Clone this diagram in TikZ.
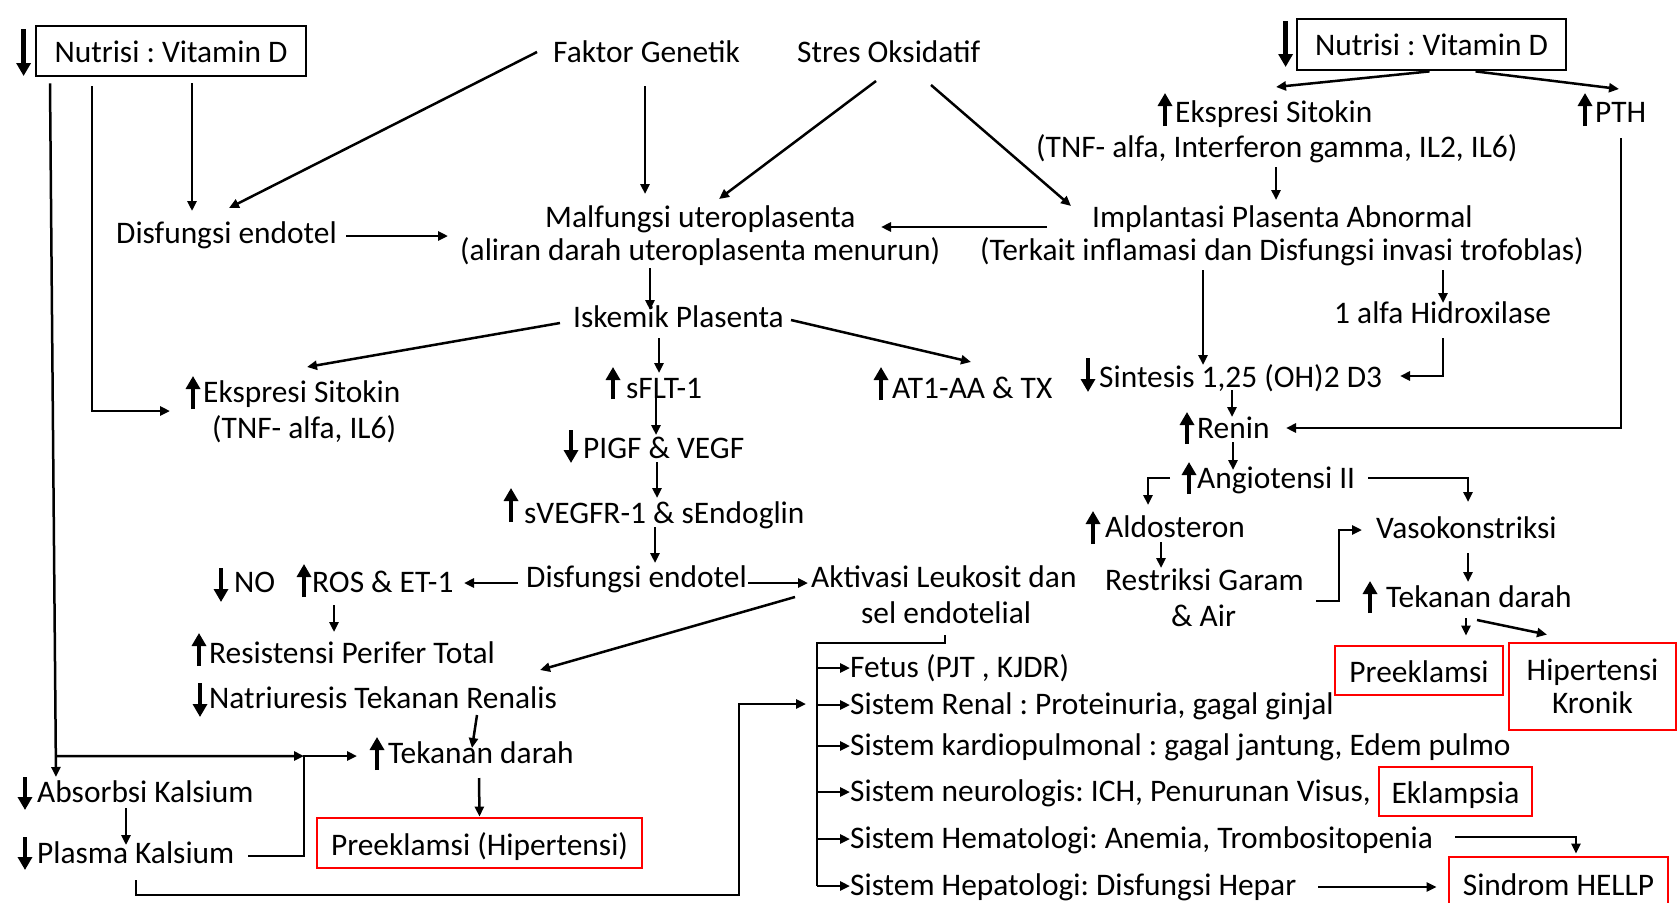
\documentclass[tikz,border=0pt]{standalone}
\usepackage{fontspec}
\setmainfont{Carlito}
\usetikzlibrary{arrows.meta,calc}
% thick up/down arrow glyphs placed next to a label: node anchor, x offset, top, bottom
\newcommand\gup[4]{\draw[gly] ($(#1)+(#2,#4)$) -- ($(#1)+(#2,#3)$);}
\newcommand\gdn[4]{\draw[gly] ($(#1)+(#2,#3)$) -- ($(#1)+(#2,#4)$);}
\frenchspacing
\begin{document}
\begin{tikzpicture}[x=1pt,y=-1pt,
  txt/.style={anchor=base west,inner sep=0pt,font=\fontsize{31.4}{36}\selectfont},
  boxbase/.style={line width=2.8pt,inner sep=0pt,font=\fontsize{31.4}{33}\selectfont},
  bbox/.style={boxbase,draw=black,text height=22pt,text depth=0pt},
  rbox/.style={boxbase,draw=red,text height=24pt,text depth=0pt},
  arr/.style={line width=2.5pt,-{Triangle[length=10pt,width=9pt]}},
  ln/.style={line width=2.5pt},
  gly/.style={line width=4.5pt,-{Triangle[length=13pt,width=14pt]}},
]
\fill[white] (0,0) rectangle (1678,902);
\useasboundingbox (0,0) rectangle (1678,902);

% ---- labels ----
\node[bbox,minimum width=270pt,minimum height=50pt] (nutL) at (171,51) {Nutrisi : Vitamin D};
\node[bbox,minimum width=269pt,minimum height=51pt] (nutR) at (1431.5,44.5) {Nutrisi : Vitamin D};
\node[txt] (fg) at (553,62) {Faktor Genetik};
\node[txt] (so) at (797,62) {Stres Oksidatif};
\node[txt] (ekR) at (1175,122) {Ekspresi Sitokin};
\node[txt] (pth) at (1595,122) {PTH};
\node[txt] (ekR2) at (1036,157) {(TNF- alfa, Interferon gamma, IL2, IL6)};
\node[txt] (mal) at (545,227) {Malfungsi uteroplasenta};
\node[txt] (mal2) at (460,260) {(aliran darah uteroplasenta menurun)};
\node[txt] (deL) at (116,243) {Disfungsi endotel};
\node[txt] (imp) at (1092,227) {Implantasi Plasenta Abnormal};
\node[txt] (imp2) at (980,260) {(Terkait inflamasi dan Disfungsi invasi trofoblas)};
\node[txt] (isk) at (573,327) {Iskemik Plasenta};
\node[txt] (hid) at (1334,323) {1 alfa Hidroxilase};
\node[txt] (ekL) at (203,402) {Ekspresi Sitokin};
\node[txt] (ekL2) at (212,438) {(TNF- alfa, IL6)};
\node[txt] (sflt) at (626,398) {sFLT-1};
\node[txt] (at1) at (892,398) {AT1-AA \& TX};
\node[txt] (sint) at (1099,387) {Sintesis 1,25 (OH)2 D3};
\node[txt] (ren) at (1197,438) {Renin};
\node[txt] (pigf) at (583,458) {PIGF \& VEGF};
\node[txt] (ang) at (1197,488) {Angiotensi II};
\node[txt] (svegf) at (524,523) {sVEGFR-1 \& sEndoglin};
\node[txt] (ald) at (1105,537) {Aldosteron};
\node[txt] (vaso) at (1376,538) {Vasokonstriksi};
\node[txt] (no) at (234,592) {NO};
\node[txt] (ros) at (312,592) {ROS \& ET-1};
\node[txt] (deM) at (526,587) {Disfungsi endotel};
\node[txt] (akt) at (811,587) {Aktivasi Leukosit dan};
\node[txt] (akt2) at (861,623) {sel endotelial};
\node[txt] (res) at (1105,590) {Restriksi Garam};
\node[txt] (air) at (1171,626) {\& Air};
\node[txt] (tdR) at (1386,607) {Tekanan darah};
\node[txt] (rpt) at (209,663) {Resistensi Perifer Total};
\node[txt] (nat) at (209,708) {Natriuresis Tekanan Renalis};
\node[txt] (tdL) at (388,763) {Tekanan darah};
\node[txt] (abs) at (37,802) {Absorbsi Kalsium};
\node[txt] (pla) at (37,863) {Plasma Kalsium};
\node[rbox,minimum width=325pt,minimum height=50pt] (pe1) at (479.5,843) {Preeklamsi (Hipertensi)};
\node[txt] (fet) at (850,677) {Fetus (PJT , KJDR)};
\node[txt] (renal) at (850,714) {Sistem Renal : Proteinuria, gagal ginjal};
\node[txt] (kar) at (850,755) {Sistem kardiopulmonal : gagal jantung, Edem pulmo};
\node[txt] (neu) at (850,801) {Sistem neurologis: ICH, Penurunan Visus,};
\node[txt] (hem) at (850,848) {Sistem Hematologi: Anemia, Trombositopenia};
\node[txt] (hep) at (850,895) {Sistem Hepatologi: Disfungsi Hepar};
\node[rbox,minimum width=168pt,minimum height=49pt] (pe2) at (1419,670.5) {Preeklamsi};
\node[boxbase,draw=red,align=center,minimum width=167pt,minimum height=87pt] (hk) at (1592.5,686.5) {Hipertensi\\Kronik};
\node[rbox,minimum width=153pt,minimum height=49pt] (ekl) at (1455.5,791.5) {Eklampsia};
\node[rbox,minimum width=219pt,minimum height=52pt] (hellp) at (1558.5,883) {Sindrom HELLP};

% ---- increase / decrease marks ----
\gdn{nutL.west}{-11}{-22}{25}
\gdn{nutR.west}{-10}{-23.5}{22.5}
\gup{ekR.base west}{-10}{-29}{4}
\gup{pth.base west}{-10}{-29}{4}
\gup{ekL.base west}{-10}{-26}{7}
\gup{sflt.base west}{-13}{-31}{1}
\gup{at1.base west}{-11}{-31}{2}
\gdn{sint.base west}{-11}{-29}{5}
\gup{ren.base west}{-10}{-26}{6}
\gdn{pigf.base west}{-12}{-28}{5}
\gup{ang.base west}{-8}{-26}{6}
\gup{svegf.base west}{-13}{-35}{-1}
\gup{ald.base west}{-12}{-26}{7}
\gdn{no.base west}{-13}{-24}{10}
\gup{ros.base west}{-8}{-28}{5}
\gup{tdR.base west}{-16}{-26}{6}
\gup{rpt.base west}{-10}{-30}{3}
\gdn{nat.base west}{-9}{-25}{9}
\gup{tdL.base west}{-11}{-26}{7}
\gdn{abs.base west}{-12}{-25}{8}
\gdn{pla.base west}{-12}{-26}{7}

% ---- left column ----
\draw[arr] ($(nutL.south)+(21,6)$) -- ($(deL.base west)+(76,-32)$);
\draw[arr] ($(fg.base west)+(-16,-10)$) -- ($(deL.base west)+(113,-35)$);
\path ($(nutL.south)+(-121,6)$) coordinate (aTop) ($(abs.base west)+(19,-25)$) coordinate (aBot);
\draw[arr] (aTop) -- (aBot);
\coordinate (jn) at ($(tdL.base west)+(-84,-7)$);
\draw[arr] ($(aTop)!0.97!(aBot)$) -- (jn);
\draw[arr] ($(pla.base west)+(211,-7)$) -| (jn) -- ($(tdL.base west)+(-31,-7)$);
\draw[arr] ($(pla.base west)+(99,17)$) -- ++(0,15) -| ($(renal.base west)+(-111,-10)$) -- ($(renal.base west)+(-44,-10)$);
\draw[arr] ($(nutL.south)+(-79,9)$) |- ($(ekL.base west)+(-33,9)$);
\draw[arr] ($(abs.base west)+(89,6)$) -- ($(pla.base west)+(89,-18)$);

% ---- centre ----
\draw[arr] ($(deL.base west)+(230,-7)$) -- ($(mal.base west)+(-97,9)$);
\draw[arr] ($(fg.base west)+(92,24)$) -- ($(mal.base west)+(100,-33)$);
\draw[arr] ($(so.base west)+(79,19)$) -- ($(mal.base west)+(174,-28)$);
\draw[arr] ($(so.base west)+(134,23)$) -- ($(imp.base west)+(-21,-21)$);
\draw[arr] ($(imp.base west)+(-45,0)$) -- ($(mal.base west)+(336,0)$);
\draw[arr] ($(mal2.base west)+(190,8)$) -- ($(isk.base west)+(77,-17)$);
\draw[arr] ($(isk.base west)+(-13,-4)$) -- ($(ekL.base west)+(104,-35)$);
\draw[arr] ($(isk.base west)+(218,-7)$) -- ($(at1.base west)+(79,-36)$);
\draw[arr] ($(isk.base west)+(86,11)$) -- ($(sflt.base west)+(33,-25)$);
\draw[arr] ($(sflt.base west)+(30,-6)$) -- ($(pigf.base west)+(73,-23)$);
\draw[arr] ($(pigf.base west)+(74,4)$) -- ($(svegf.base west)+(133,-25)$);
\draw[arr] ($(svegf.base west)+(131,4)$) -- ($(deM.base west)+(129,-24)$);
\draw[arr] ($(deM.base west)+(-8,-4)$) -- ($(ros.base west)+(152,-9)$);
\draw[arr] ($(deM.base west)+(222,-4)$) -- ($(akt.base west)+(-3,-4)$);
\draw[arr] ($(ros.base west)+(22,13)$) -- ($(rpt.base west)+(125,-31)$);
\draw[arr] ($(akt.base west)+(-16,10)$) -- ($(nat.base west)+(331,-38)$);
\draw[arr] ($(nat.base west)+(268,7)$) -- ($(tdL.base west)+(84,-15)$);
\draw[arr] ($(tdL.base west)+(91,15)$) -- (pe1.north);

% ---- organ systems ----
\coordinate (trunk) at ($(akt2.base west)+(-44,20)$);
\draw[ln] ($(akt2.base west)+(84,12)$) |- (trunk) -- ($(hep.base west)+(-33,-9)$);
\foreach \n in {fet,renal,kar,neu,hem,hep}{
  \path ($(\n.base west)+(0,-9)$) coordinate (t\n);
  \draw[arr] (trunk |- t\n) -- (t\n);
}
\draw[arr] ($(hem.base west)+(605,-11)$) -| ($(hellp.north)+(17.5,-2)$);
\draw[arr] ($(hep.base west)+(468,-8)$) -- ($(hellp.west)+(-11,4)$);

% ---- right column ----
\draw[arr] ($(nutR.south)+(-2,0)$) -- ($(ekR.base west)+(101,-35)$);
\draw[arr] ($(nutR.south)+(44,0)$) -- ($(pth.base west)+(24,-33)$);
\draw[arr] ($(ekR2.base west)+(240,10)$) -- ($(imp.base west)+(184,-27)$);
\draw[arr] ($(pth.base west)+(26,16)$) |- ($(ren.base west)+(89,-10)$);
\draw[arr] ($(imp2.base west)+(223,10)$) -- ($(sint.base west)+(104,-22)$);
\draw[arr] ($(imp2.base west)+(463,10)$) -- ($(hid.base west)+(109,-20)$);
\draw[arr] ($(hid.base west)+(109,15)$) |- ($(sint.base west)+(301,-11)$);
\draw[arr] ($(sint.base west)+(133,3)$) -- ($(ren.base west)+(35,-21)$);
\draw[arr] ($(ren.base west)+(36,4)$) -- ($(ang.base west)+(36,-18)$);
\draw[arr] ($(ang.base west)+(-27,-10)$) -| ($(ald.base west)+(43,-32)$);
\draw[arr] ($(ang.base west)+(171,-10)$) -| ($(vaso.base west)+(92,-36)$);
\draw[arr] ($(ald.base west)+(56,5)$) -- ($(res.base west)+(56,-22)$);
\draw[arr] ($(res.base west)+(211,11)$) -- ++(23,0) |- ($(vaso.base west)+(-14,-8)$);
\draw[arr] ($(vaso.base west)+(92,15)$) -- ($(tdR.base west)+(82,-25)$);
\draw[arr] ($(tdR.base west)+(80,11)$) -- ($(pe2.north)+(47,-9)$);
\draw[arr] ($(tdR.base west)+(91,13)$) -- ($(hk.north)+(-45.5,-7)$);
\end{tikzpicture}
\end{document}
